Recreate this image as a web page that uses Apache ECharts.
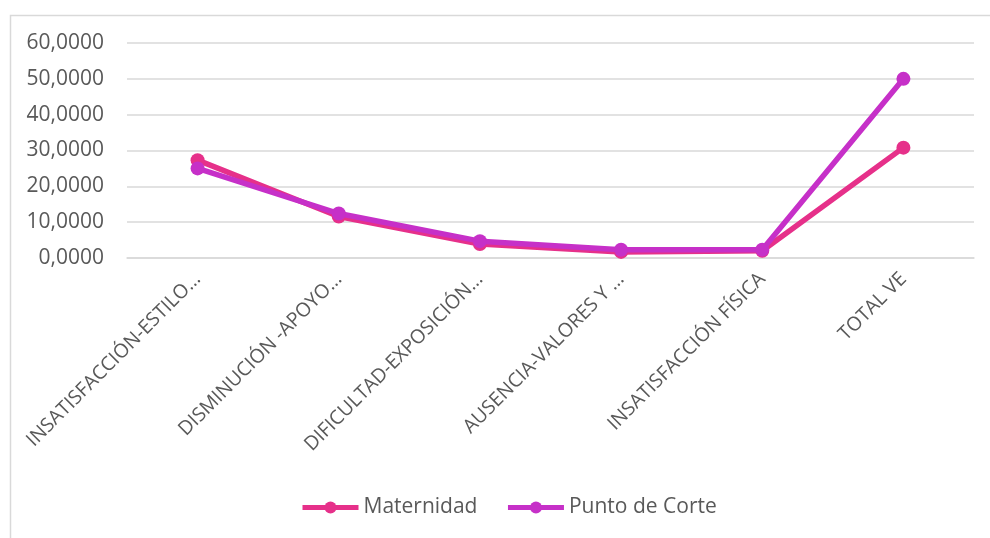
<!DOCTYPE html>
<html>
<head>
<meta charset="utf-8">
<script src="https://cdn.jsdelivr.net/npm/echarts@6/dist/echarts.min.js"></script>
<style>
  html, body { margin: 0; padding: 0; background: #ffffff; }
  #chart { width: 990px; height: 538px; }
</style>
</head>
<body>
<div id="chart"></div>
<script>
// Categories shown on the horizontal axis
const categories = [
  'INSATISFACCIÓN-ESTILO…',
  'DISMINUCIÓN -APOYO…',
  'DIFICULTAD-EXPOSICIÓN…',
  'AUSENCIA-VALORES Y …',
  'INSATISFACCIÓN FÍSICA',
  'TOTAL VE'
];

// Series values
const maternidad = [27.3, 11.6, 3.9, 1.7, 2.0, 30.8];
const puntoDeCorte = [25.0, 12.4, 4.7, 2.3, 2.3, 50.0];

// Value axis ticks
const yMin = 0;
const yMax = 60;
const yStep = 10;

const textColor = '#595959';
const gridColor = '#d9d9d9';
const pink = '#e6308a';
const purple = '#c630c8';
const fontFamily = '"Open Sans", "Noto Sans", sans-serif';

const chart = echarts.init(document.getElementById('chart'), null, { renderer: 'canvas' });

chart.setOption({
  backgroundColor: '#ffffff',
  animation: false,
  textStyle: { fontFamily: fontFamily, color: textColor },
  graphic: [{
    type: 'rect',
    left: 8, top: 13,
    shape: { width: 1000, height: 600 },
    style: { fill: 'none', stroke: '#d9d9d9', lineWidth: 1.5 },
    silent: true,
    z: -1
  }],
  grid: { left: 127, right: 16, top: 43, bottom: 280, containLabel: false },
  legend: {
    bottom: 15,
    left: 295,
    itemWidth: 56,
    itemHeight: 15,
    itemGap: 28,
    lineStyle: { width: 5 },
    textStyle: { fontSize: 21, color: textColor, fontFamily: fontFamily },
    data: ['Maternidad', 'Punto de Corte']
  },
  xAxis: {
    type: 'category',
    data: categories,
    boundaryGap: true,
    axisLine: { show: true, lineStyle: { color: gridColor, width: 1.5 } },
    axisTick: { show: false },
    axisLabel: {
      rotate: 45,
      interval: 0,
      margin: 18,
      fontSize: 19.5,
      color: textColor,
      fontFamily: fontFamily
    }
  },
  yAxis: {
    type: 'value',
    min: yMin,
    max: yMax,
    interval: yStep,
    axisLine: { show: false },
    axisTick: { show: false },
    splitLine: { lineStyle: { color: gridColor, width: 1.5 } },
    axisLabel: {
      fontSize: 21,
      color: textColor,
      margin: 23,
      fontFamily: fontFamily,
      formatter: v => v.toFixed(4).replace('.', ',')
    }
  },
  series: [
    {
      name: 'Maternidad',
      type: 'line',
      data: maternidad,
      symbol: 'circle',
      symbolSize: 14,
      lineStyle: { color: pink, width: 5.5 },
      itemStyle: { color: pink },
      z: 2
    },
    {
      name: 'Punto de Corte',
      type: 'line',
      data: puntoDeCorte,
      symbol: 'circle',
      symbolSize: 14,
      lineStyle: { color: purple, width: 5.5 },
      itemStyle: { color: purple },
      z: 3
    }
  ]
});
</script>
</body>
</html>
